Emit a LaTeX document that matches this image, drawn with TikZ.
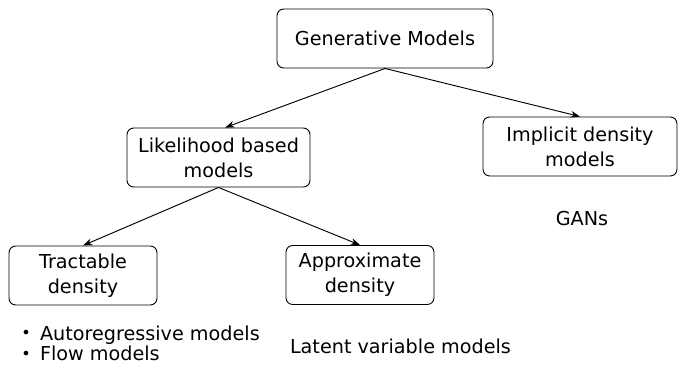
\documentclass[tikz,border=0pt]{standalone}
\usepackage{fontspec}
\setmainfont{DejaVu Sans}
\usepackage{xcolor}
\usepackage{tikz}
\usetikzlibrary{positioning,arrows.meta}

\newcommand{\bul}{\raisebox{0.1ex}{\fontsize{12}{12}\selectfont •}\hspace{7pt}}

\begin{document}
\begin{tikzpicture}[x=0.75pt,y=-0.75pt,
		font=\fontsize{14.4}{18.7}\selectfont,
		block/.style={draw, rounded corners=5pt, align=center, line width=0.7pt,
		minimum height=44.25pt, inner sep=2pt},
		link/.style={->, >={Stealth[length=7pt,width=5pt]}, line width=0.7pt}]
		\useasboundingbox (0,0) rectangle (678,367);
		\node[block, minimum width=162pt] (gen) at (385,38.5) {Generative Models};
		\node[block, minimum width=137.25pt] (like) at (218.5,157.5) {Likelihood based\\models};
		\node[block, minimum width=145.5pt] (impl) at (580,146.5) {Implicit density\\models};
		\node[block, minimum width=111pt] (tract) at (83,275.5) {Tractable\\density};
		\node[block, minimum width=111pt] (approx) at (360,275) {Approximate\\density};
		\node[anchor=base] (gans) at (582,225) {GANs};
		\node[anchor=base west, inner sep=0pt] (autoreg) at (21,340) {\bul Autoregressive models};
		\node[anchor=base west, inner sep=0pt] (flow) at (21,360.5) {\bul Flow models};
		\node[anchor=base] (latent) at (400.5,353) {Latent variable models};
		\draw[link] (gen.south) -- ([xshift=5pt]like.north);
		\draw[link] (gen.south) -- (impl.north);
		\draw[link] (like.south) -- (tract.north);
		\draw[link] (like.south) -- (approx.north);
	\end{tikzpicture}
\end{document}
